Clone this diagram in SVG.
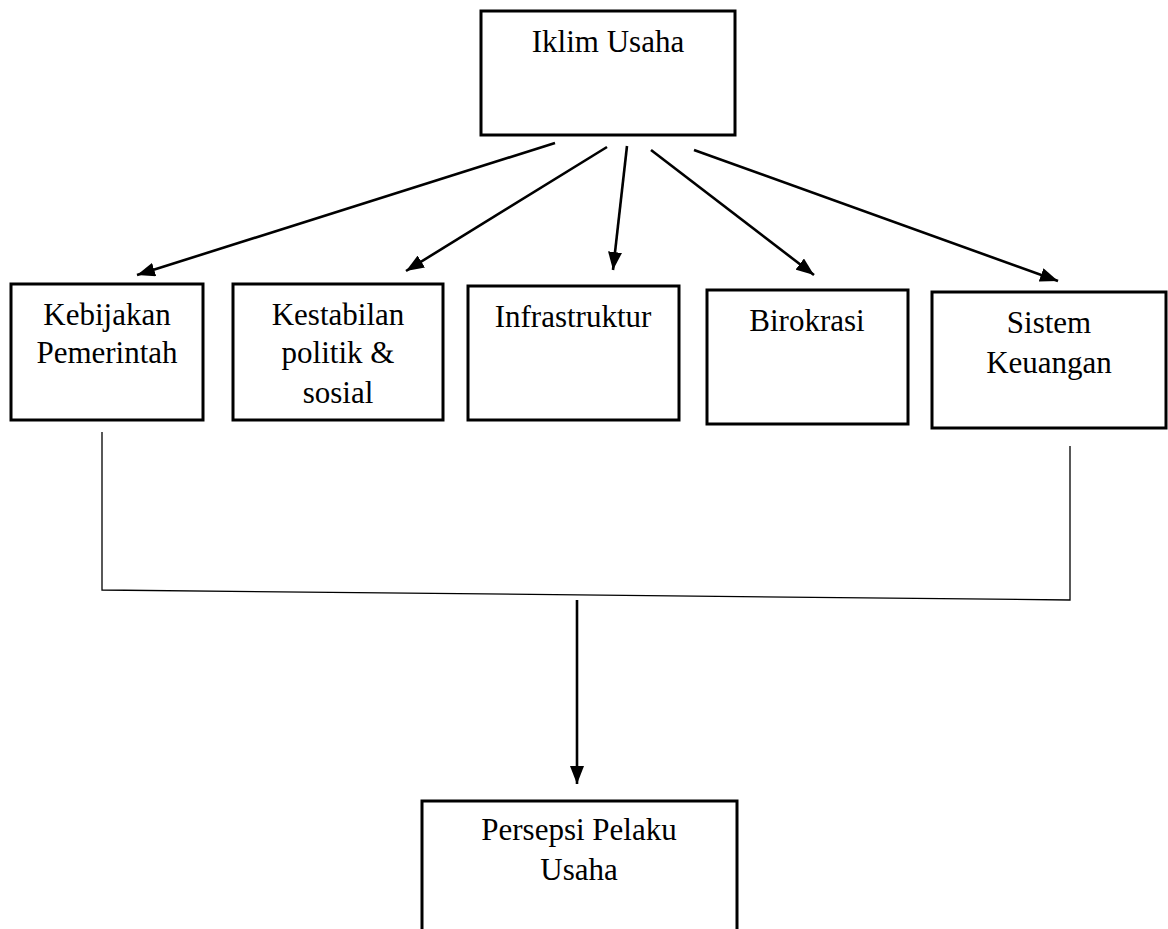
<svg xmlns="http://www.w3.org/2000/svg" width="1168" height="929" viewBox="0 0 1168 929">
<style>
.box{fill:#fff;stroke:#000;stroke-width:3}
.t{font-family:"Liberation Serif","Times New Roman",serif;font-size:31px;fill:#000;text-anchor:middle}
.c{stroke:#000;stroke-width:2.6;fill:none}
.thin{stroke:#000;stroke-width:1.3;fill:none}
</style>
<defs>
<marker id="ah" viewBox="0 0 18 14" refX="18" refY="7" markerWidth="18" markerHeight="14" markerUnits="userSpaceOnUse" orient="auto">
<path d="M0,0 L18,7 L0,14 Z" fill="#000"/>
</marker>
</defs>
<rect width="1168" height="929" fill="#fff"/>
<g id="iklim"><rect class="box" x="481" y="11" width="254" height="124"/><text class="t" x="608" y="52">Iklim Usaha</text></g>
<g id="kebijakan"><rect class="box" x="11" y="284" width="192" height="136"/><text class="t" x="107" y="325">Kebijakan</text><text class="t" x="107" y="363">Pemerintah</text></g>
<g id="kestabilan"><rect class="box" x="233" y="284" width="210" height="136"/><text class="t" x="338" y="325">Kestabilan</text><text class="t" x="338" y="363">politik &amp;</text><text class="t" x="338" y="403">sosial</text></g>
<g id="infrastruktur"><rect class="box" x="468" y="286" width="211" height="134"/><text class="t" x="573" y="327">Infrastruktur</text></g>
<g id="birokrasi"><rect class="box" x="707" y="290" width="201" height="134"/><text class="t" x="807" y="331">Birokrasi</text></g>
<g id="sistem"><rect class="box" x="932" y="292" width="234" height="136"/><text class="t" x="1049" y="333">Sistem</text><text class="t" x="1049" y="373">Keuangan</text></g>
<g id="persepsi"><path class="box" d="M422,935 L422,801 L737,801 L737,935"/><text class="t" x="579" y="840">Persepsi Pelaku</text><text class="t" x="579" y="880">Usaha</text></g>
<g id="connectors">
<line class="c" x1="555" y1="143" x2="137" y2="275" marker-end="url(#ah)"/>
<line class="c" x1="607" y1="147" x2="406" y2="271" marker-end="url(#ah)"/>
<line class="c" x1="627" y1="146" x2="613" y2="270" marker-end="url(#ah)"/>
<line class="c" x1="651" y1="150" x2="814" y2="275" marker-end="url(#ah)"/>
<line class="c" x1="694" y1="150" x2="1058" y2="281" marker-end="url(#ah)"/>
<polyline class="thin" points="102,432 102,590 1070,600 1070,446"/>
<line class="c" x1="577" y1="600" x2="577" y2="784" marker-end="url(#ah)"/>
</g>
</svg>
